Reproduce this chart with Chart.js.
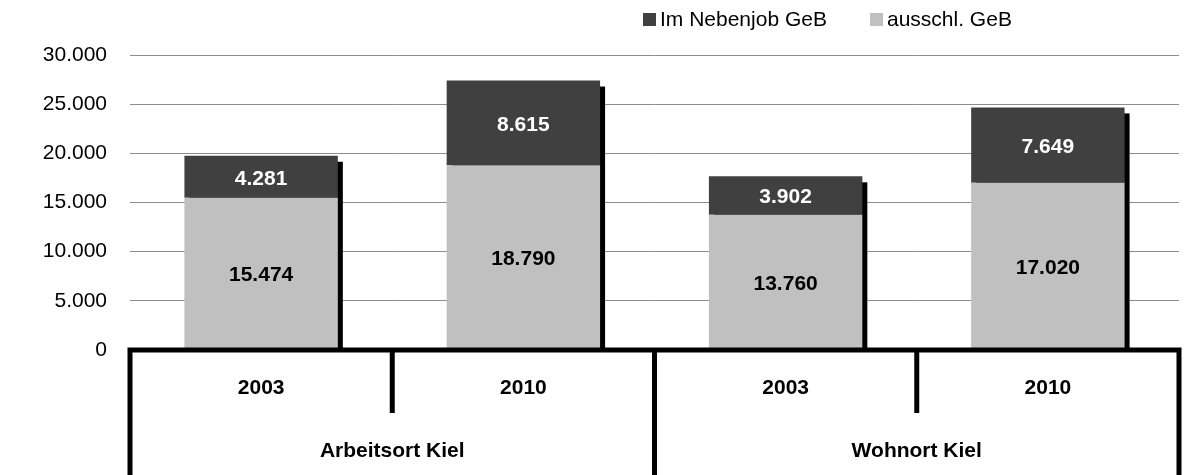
<!DOCTYPE html>
<html>
<head>
<meta charset="utf-8">
<script src="https://cdn.jsdelivr.net/npm/chart.js@4/dist/chart.umd.min.js"></script>
<style>
  body { margin: 0; background: #fff; }
  canvas { display: block; }
</style>
</head>
<body>
<canvas id="chart" width="1204" height="475"></canvas>
<script>
// data
const years = ["2003", "2010", "2003", "2010"];
const groups = ["Arbeitsort Kiel", "Wohnort Kiel"];
const ausschl = [15474, 18790, 13760, 17020];
const nebenjob = [4281, 8615, 3902, 7649];
const seriesLabels = ["ausschl. GeB", "Im Nebenjob GeB"];
const yMax = 30000;
const yStep = 5000;

const FONT = '"Liberation Sans", Arial, sans-serif';
const fmt = v => String(v).replace(/\B(?=(\d{3})+(?!\d))/g, ".");

// black drop shadow to the lower right of each stack
const shadowPlugin = {
  id: "shadow",
  beforeDatasetsDraw(chart) {
    const ctx = chart.ctx;
    const bottom = chart.getDatasetMeta(0).data;
    const top = chart.getDatasetMeta(1).data;
    ctx.save();
    ctx.fillStyle = "#000";
    top.forEach((el, i) => {
      const base = bottom[i].base;
      ctx.fillRect(el.x - el.width / 2 + 5, el.y + 6, el.width, base - el.y - 6);
    });
    ctx.restore();
  }
};

// values in the middle of every segment
const labelPlugin = {
  id: "labels",
  afterDatasetsDraw(chart) {
    const ctx = chart.ctx;
    ctx.save();
    ctx.font = "bold 21px " + FONT;
    ctx.textAlign = "center";
    ctx.textBaseline = "middle";
    chart.data.datasets.forEach((ds, d) => {
      ctx.fillStyle = d === 1 ? "#ffffff" : "#000000";
      chart.getDatasetMeta(d).data.forEach((el, i) => {
        ctx.fillText(fmt(ds.data[i]), el.x, (el.y + el.base) / 2 + 2);
      });
    });
    ctx.restore();
  }
};

// two-level category axis drawn as a table under the plot
const axisPlugin = {
  id: "groupAxis",
  afterDraw(chart) {
    const ctx = chart.ctx;
    const a = chart.chartArea;
    const x = chart.scales.x;
    const H = chart.height;
    const px = i => x.getPixelForValue(i);
    const edge = i => (px(i) + px(i + 1)) / 2;
    ctx.save();
    ctx.strokeStyle = "#000";
    ctx.lineWidth = 5;
    ctx.lineCap = "butt";
    ctx.beginPath();
    ctx.moveTo(a.left - 2.5, a.bottom);
    ctx.lineTo(a.right + 2.5, a.bottom);
    ctx.moveTo(a.left, a.bottom);
    ctx.lineTo(a.left, H);
    ctx.moveTo(edge(1), a.bottom);
    ctx.lineTo(edge(1), H);
    ctx.moveTo(a.right, a.bottom);
    ctx.lineTo(a.right, H);
    ctx.moveTo(edge(0), a.bottom);
    ctx.lineTo(edge(0), a.bottom + 63);
    ctx.moveTo(edge(2), a.bottom);
    ctx.lineTo(edge(2), a.bottom + 63);
    ctx.stroke();

    ctx.fillStyle = "#000";
    ctx.font = "bold 21px " + FONT;
    ctx.textAlign = "center";
    ctx.textBaseline = "middle";
    years.forEach((y, i) => ctx.fillText(y, px(i), a.bottom + 38));
    groups.forEach((g, k) => ctx.fillText(g, (px(2 * k) + px(2 * k + 1)) / 2, a.bottom + 101));
    ctx.restore();
  }
};

// legend, Nebenjob first as in the original
const legendPlugin = {
  id: "legendTop",
  afterDraw(chart) {
    const ctx = chart.ctx;
    const items = [
      { text: seriesLabels[1], color: "#404040", x: 643 },
      { text: seriesLabels[0], color: "#c0c0c0", x: 870 }
    ];
    ctx.save();
    ctx.font = "21px " + FONT;
    ctx.textBaseline = "middle";
    ctx.textAlign = "left";
    items.forEach(it => {
      ctx.fillStyle = it.color;
      ctx.fillRect(it.x, 13, 13, 13);
      ctx.fillStyle = "#000";
      ctx.fillText(it.text, it.x + 17, 20);
    });
    ctx.restore();
  }
};

new Chart(document.getElementById("chart"), {
  type: "bar",
  data: {
    labels: years,
    datasets: [
      { label: seriesLabels[0], data: ausschl, backgroundColor: "#c0c0c0", borderWidth: 0 },
      { label: seriesLabels[1], data: nebenjob, backgroundColor: "#404040", borderWidth: 0 }
    ]
  },
  options: {
    responsive: false,
    animation: false,
    layout: { padding: { top: 55, right: 25, bottom: 125, left: 0 } },
    datasets: { bar: { barPercentage: 0.585, categoryPercentage: 1 } },
    plugins: { legend: { display: false }, tooltip: { enabled: false } },
    scales: {
      x: { stacked: true, display: false },
      y: {
        stacked: true,
        min: 0,
        max: yMax,
        afterFit(s) { s.width = 130; },
        border: { display: false },
        grid: { color: "#8c8c8c", lineWidth: 1, drawTicks: false },
        ticks: {
          stepSize: yStep,
          padding: 23,
          color: "#000",
          font: { family: FONT, size: 21 },
          callback: v => fmt(v)
        }
      }
    }
  },
  plugins: [shadowPlugin, labelPlugin, axisPlugin, legendPlugin]
});
</script>
</body>
</html>
